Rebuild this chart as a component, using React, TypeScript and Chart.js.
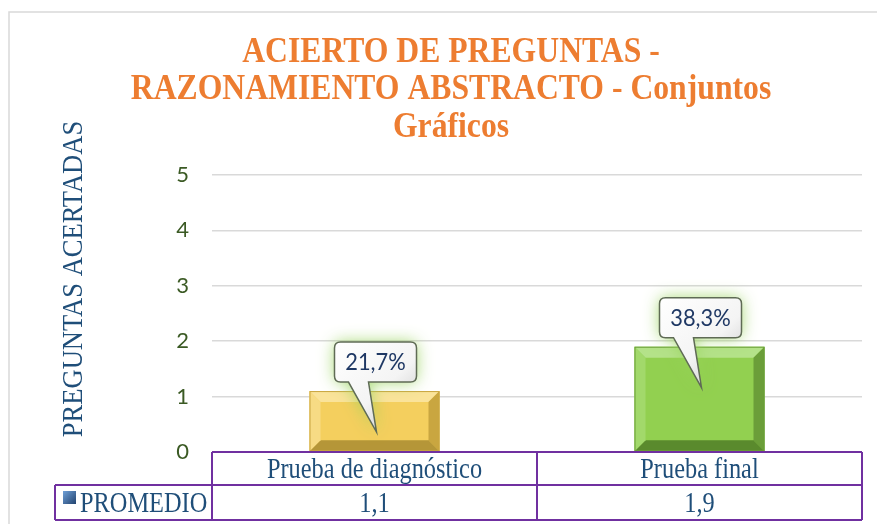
import React, { useEffect, useRef } from "react";
import { Chart, registerables } from "chart.js";

Chart.register(...registerables);

const titleLines = ["ACIERTO DE PREGUNTAS -", "RAZONAMIENTO ABSTRACTO - Conjuntos", "Gráficos"];
const yAxisTitle = "PREGUNTAS ACERTADAS";
const categories = ["Prueba de diagnóstico", "Prueba final"];
const seriesName = "PROMEDIO";
const promedio = [1.1, 1.9];
const promedioLabels = ["1,1", "1,9"];
const porcentajes = ["21,7%", "38,3%"];
const yMin = 0;
const yMax = 5;
const yStep = 1;

const barBase = ["#F4CF5E", "#92D050"];
const barTop = ["#FAE39A", "#B4E289"];
const barLeft = ["#F7DB84", "#A2D96B"];
const barRight = ["#C9A640", "#6B9E39"];
const barBottom = ["#B59638", "#5A8A2D"];

const TABLE_PURPLE = "#7030A0";
const TEXT_BLUE = "#1F4E79";

function drawText(ctx: CanvasRenderingContext2D, text: string, x: number, y: number, font: string, color: string, sx: number, align: CanvasTextAlign) {
  ctx.save();
  ctx.font = font;
  ctx.fillStyle = color;
  ctx.translate(x, y);
  ctx.scale(sx, 1);
  ctx.textAlign = align;
  ctx.textBaseline = "alphabetic";
  ctx.fillText(text, 0, 0);
  ctx.restore();
}

function poly(ctx: CanvasRenderingContext2D, pts: number[][], color: string) {
  ctx.beginPath();
  ctx.moveTo(pts[0][0], pts[0][1]);
  for (let i = 1; i < pts.length; i++) ctx.lineTo(pts[i][0], pts[i][1]);
  ctx.closePath();
  ctx.fillStyle = color;
  ctx.fill();
}

const decorPlugin = {
  id: "decor",
  beforeDraw(chart: any) {
    const ctx = chart.ctx as CanvasRenderingContext2D;
    ctx.save();
    ctx.fillStyle = "#FFFFFF";
    ctx.fillRect(0, 0, chart.width, chart.height);
    ctx.strokeStyle = "#D9D9D9";
    ctx.lineWidth = 1.5;
    ctx.beginPath();
    ctx.moveTo(9, chart.height);
    ctx.lineTo(9, 12);
    ctx.lineTo(chart.width, 12);
    ctx.stroke();
    ctx.restore();
    const baselines = [62, 99, 137];
    titleLines.forEach((t, i) => {
      drawText(ctx, t, 451, baselines[i], "bold 36px 'Liberation Serif'", "#ED7D31", 0.88, "center");
    });
    ctx.save();
    ctx.translate(82, 279);
    ctx.rotate(-Math.PI / 2);
    ctx.scale(0.885, 1);
    ctx.font = "30px 'Liberation Serif'";
    ctx.fillStyle = TEXT_BLUE;
    ctx.textAlign = "center";
    ctx.textBaseline = "alphabetic";
    ctx.fillText(yAxisTitle, 0, 0);
    ctx.restore();
  },
  afterDatasetsDraw(chart: any) {
    const ctx = chart.ctx as CanvasRenderingContext2D;
    const meta = chart.getDatasetMeta(0);
    meta.data.forEach((el: any, i: number) => {
      const p = el.getProps(["x", "y", "base", "width"], true);
      const x0 = p.x - p.width / 2;
      const x1 = p.x + p.width / 2;
      const y0 = p.y;
      const y1 = p.base;
      const b = 11;
      ctx.save();
      ctx.fillStyle = barBase[i];
      ctx.fillRect(x0, y0, x1 - x0, y1 - y0);
      poly(ctx, [[x0, y0], [x1, y0], [x1 - b, y0 + b], [x0 + b, y0 + b]], barTop[i]);
      poly(ctx, [[x1, y0], [x1, y1], [x1 - b, y1 - b], [x1 - b, y0 + b]], barRight[i]);
      poly(ctx, [[x1, y1], [x0, y1], [x0 + b, y1 - b], [x1 - b, y1 - b]], barBottom[i]);
      poly(ctx, [[x0, y1], [x0, y0], [x0 + b, y0 + b], [x0 + b, y1 - b]], barLeft[i]);
      ctx.strokeStyle = barRight[i];
      ctx.lineWidth = 1;
      ctx.strokeRect(x0 + 0.5, y0 + 0.5, x1 - x0 - 1, y1 - y0 - 1);
      ctx.restore();

      const bw = 82;
      const bh = 40;
      const cx = p.x + 1;
      const cy = p.y - 29;
      const bx0 = cx - bw / 2;
      const bx1 = cx + bw / 2;
      const by0 = cy - bh / 2;
      const by1 = cy + bh / 2;
      const r = 6;
      const tipX = p.x + 2;
      const tipY = p.y + 41;
      const tl = p.x - 26;
      const tr = p.x - 6;
      const path = () => {
        ctx.beginPath();
        ctx.moveTo(bx0 + r, by0);
        ctx.lineTo(bx1 - r, by0);
        ctx.quadraticCurveTo(bx1, by0, bx1, by0 + r);
        ctx.lineTo(bx1, by1 - r);
        ctx.quadraticCurveTo(bx1, by1, bx1 - r, by1);
        ctx.lineTo(tr, by1);
        ctx.lineTo(tipX, tipY);
        ctx.lineTo(tl, by1);
        ctx.lineTo(bx0 + r, by1);
        ctx.quadraticCurveTo(bx0, by1, bx0, by1 - r);
        ctx.lineTo(bx0, by0 + r);
        ctx.quadraticCurveTo(bx0, by0, bx0 + r, by0);
        ctx.closePath();
      };
      ctx.save();
      path();
      ctx.shadowColor = "rgba(150,210,90,0.85)";
      ctx.shadowBlur = 16;
      ctx.fillStyle = "#FFFFFF";
      ctx.fill();
      ctx.restore();
      ctx.save();
      path();
      const cg = ctx.createLinearGradient(bx0, by0, bx1, tipY);
      cg.addColorStop(0, "#FFFFFF");
      cg.addColorStop(0.55, "#F4F4F4");
      cg.addColorStop(1, "#BDBDBD");
      ctx.fillStyle = cg;
      ctx.fill();
      ctx.strokeStyle = "#5F6B55";
      ctx.lineWidth = 1.5;
      ctx.stroke();
      ctx.restore();
      drawText(ctx, porcentajes[i], cx, cy + 8, "23px Lato", "#1F3864", 0.95, "center");
    });
  },
  afterDraw(chart: any) {
    const ctx = chart.ctx as CanvasRenderingContext2D;
    const area = chart.chartArea;
    const xs = chart.scales.x;
    const left = area.left;
    const right = area.right;
    const mid = (area.left + area.right) / 2;
    const top = area.bottom;
    const rowMid = top + 33;
    const rowBot = top + 68;
    const legendLeft = 55;
    ctx.save();
    ctx.strokeStyle = TABLE_PURPLE;
    ctx.lineWidth = 2;
    ctx.beginPath();
    ctx.moveTo(left, top);
    ctx.lineTo(right, top);
    ctx.moveTo(legendLeft, rowMid);
    ctx.lineTo(right, rowMid);
    ctx.moveTo(legendLeft, rowBot);
    ctx.lineTo(right, rowBot);
    ctx.moveTo(left, top);
    ctx.lineTo(left, rowBot);
    ctx.moveTo(mid, top);
    ctx.lineTo(mid, rowBot);
    ctx.moveTo(right, top);
    ctx.lineTo(right, rowBot);
    ctx.moveTo(legendLeft, rowMid);
    ctx.lineTo(legendLeft, rowBot);
    ctx.stroke();
    ctx.restore();
    const font = "29px 'Liberation Serif'";
    categories.forEach((c, i) => {
      const px = xs.getPixelForTick(i);
      drawText(ctx, c, px, top + 26, font, TEXT_BLUE, 0.84, "center");
      drawText(ctx, promedioLabels[i], px, rowMid + 27, font, TEXT_BLUE, 0.84, "center");
    });
    ctx.save();
    const mg = ctx.createLinearGradient(63, rowMid + 6, 77, rowMid + 19);
    mg.addColorStop(0, "#6FA0D8");
    mg.addColorStop(1, "#1F3F6A");
    ctx.fillStyle = mg;
    ctx.fillRect(63, rowMid + 6, 13, 13);
    ctx.restore();
    drawText(ctx, seriesName, 80, rowMid + 27, font, TEXT_BLUE, 0.84, "left");
  },
};

export default function App() {
  const ref = useRef<HTMLCanvasElement | null>(null);
  useEffect(() => {
    if (!ref.current) return;
    const chart = new Chart(ref.current, {
      type: "bar",
      data: {
        labels: categories,
        datasets: [
          {
            label: seriesName,
            data: promedio,
            backgroundColor: "rgba(0,0,0,0)",
            borderWidth: 0,
            barPercentage: 0.4,
            categoryPercentage: 1,
          },
        ],
      },
      options: {
        responsive: false,
        animation: false,
        layout: { padding: { left: 162, right: 15, top: 175, bottom: 72 } },
        plugins: {
          legend: { display: false },
          title: { display: false },
          tooltip: { enabled: false },
        },
        scales: {
          x: { display: false },
          y: {
            min: yMin,
            max: yMax,
            afterFit: (s: any) => {
              s.width = 50;
            },
            ticks: {
              stepSize: yStep,
              padding: 23,
              color: "#3B5A24",
              font: { family: "Lato", size: 22 },
            },
            grid: { color: "#D9D9D9", lineWidth: 1.5, drawTicks: false },
            border: { display: false },
          },
        },
      },
      plugins: [decorPlugin],
    });
    return () => chart.destroy();
  }, []);
  return (
    <div style={{ position: "absolute", left: 0, top: 0, width: 877, height: 524 }}>
      <canvas ref={ref} width={877} height={524} />
    </div>
  );
}
